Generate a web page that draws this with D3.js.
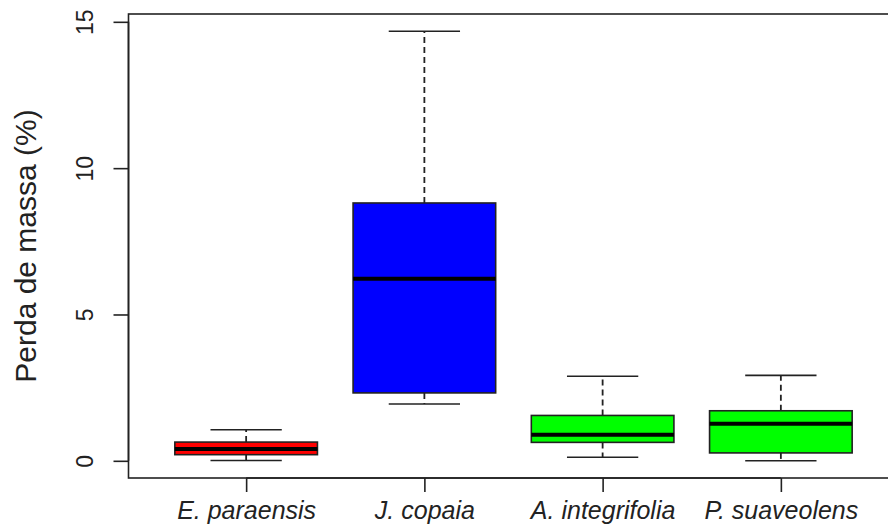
<!DOCTYPE html>
<html><head><meta charset="utf-8">
<script src="https://cdn.jsdelivr.net/npm/d3@7"></script>
<style>body{margin:0;background:#fff}svg{display:block}</style>
</head><body>
<script>
const categories = ["E. paraensis","J. copaia","A. integrifolia","P. suaveolens"];
const lowerWhisker = [0.01, 1.94, 0.12, 0.00];
const q1 = [0.21, 2.32, 0.63, 0.27];
const median = [0.40, 6.22, 0.89, 1.27];
const q3 = [0.64, 8.81, 1.55, 1.71];
const upperWhisker = [1.06, 14.68, 2.89, 2.92];
const colors = ["#ff0000","#0000ff","#00ff00","#00ff00"];
const yTicks = [0,5,10,15];
const yTitle = "Perda de massa (%)";

const W=888,H=527;
const mLeft=128.5,mRight=898.5,mTop=14,mBottom=478;
const svg=d3.select("body").append("svg").attr("width",W).attr("height",H);
const font="Liberation Sans, Arial, sans-serif";
const lineCol="#222";

const n=categories.length;
const ymax=d3.max(upperWhisker), ymin=d3.min(lowerWhisker);
const pad=0.04*(ymax-ymin);
const x=d3.scaleLinear().domain([0.5-0.04*n,n+0.5+0.04*n]).range([mLeft,mRight]);
const y=d3.scaleLinear().domain([ymin-pad,ymax+pad]).range([mBottom,mTop]);

const data=categories.map((c,i)=>({c,i:i+1,lo:lowerWhisker[i],q1:q1[i],med:median[i],q3:q3[i],hi:upperWhisker[i],col:colors[i]}));
const bw=0.8, cw=0.4;

const g=svg.append("g");
data.forEach(d=>{
  g.append("line").attr("x1",x(d.i)).attr("x2",x(d.i)).attr("y1",y(d.q3)).attr("y2",y(d.hi))
    .attr("stroke",lineCol).attr("stroke-width",1.8).attr("stroke-dasharray","6,4");
  g.append("line").attr("x1",x(d.i)).attr("x2",x(d.i)).attr("y1",y(d.q1)).attr("y2",y(d.lo))
    .attr("stroke",lineCol).attr("stroke-width",1.8).attr("stroke-dasharray","6,4");
  [d.lo,d.hi].forEach(v=>{
    g.append("line").attr("x1",x(d.i-cw/2)).attr("x2",x(d.i+cw/2)).attr("y1",y(v)).attr("y2",y(v))
      .attr("stroke",lineCol).attr("stroke-width",1.6);
  });
  g.append("rect").attr("x",x(d.i-bw/2)).attr("width",x(d.i+bw/2)-x(d.i-bw/2))
    .attr("y",y(d.q3)).attr("height",y(d.q1)-y(d.q3))
    .attr("fill",d.col).attr("stroke",lineCol).attr("stroke-width",1.6);
  g.append("line").attr("x1",x(d.i-bw/2)).attr("x2",x(d.i+bw/2)).attr("y1",y(d.med)).attr("y2",y(d.med))
    .attr("stroke","#000").attr("stroke-width",4);
});

svg.append("rect").attr("x",mLeft).attr("y",mTop).attr("width",mRight-mLeft).attr("height",mBottom-mTop)
  .attr("fill","none").attr("stroke",lineCol).attr("stroke-width",1.6);

const ya=svg.append("g").attr("transform",`translate(${mLeft},0)`)
  .call(d3.axisLeft(y).tickValues(yTicks).tickSize(15).tickFormat(d3.format("d")));
ya.select(".domain").attr("d",`M0,${y(0)}V${y(15)}`).attr("stroke",lineCol).attr("stroke-width",1.6);
ya.selectAll(".tick line").attr("stroke",lineCol).attr("stroke-width",1.6);
ya.selectAll(".tick text").attr("font-family",font).attr("font-size",23).attr("fill","#222")
  .attr("x",0).attr("dy",null).attr("text-anchor","middle")
  .attr("transform","translate(-44,0) rotate(-90)").attr("dominant-baseline","central");

const xa=svg.append("g").attr("transform",`translate(0,${mBottom})`)
  .call(d3.axisBottom(x).tickValues(data.map(d=>d.i)).tickSize(14).tickFormat((d,i)=>categories[i]));
xa.select(".domain").attr("d",`M${x(1)},0H${x(n)}`).attr("stroke",lineCol).attr("stroke-width",1.6);
xa.selectAll(".tick line").attr("stroke",lineCol).attr("stroke-width",1.6);
xa.selectAll(".tick text").attr("font-family",font).attr("font-size",25).attr("font-style","italic")
  .attr("fill","#222").attr("y",41).attr("dy",null);

svg.append("text").attr("transform",`translate(36,${(mTop+mBottom)/2}) rotate(-90)`)
  .attr("text-anchor","middle").attr("font-family",font).attr("font-size",30).attr("fill","#222")
  .text(yTitle);
</script>
</body></html>
